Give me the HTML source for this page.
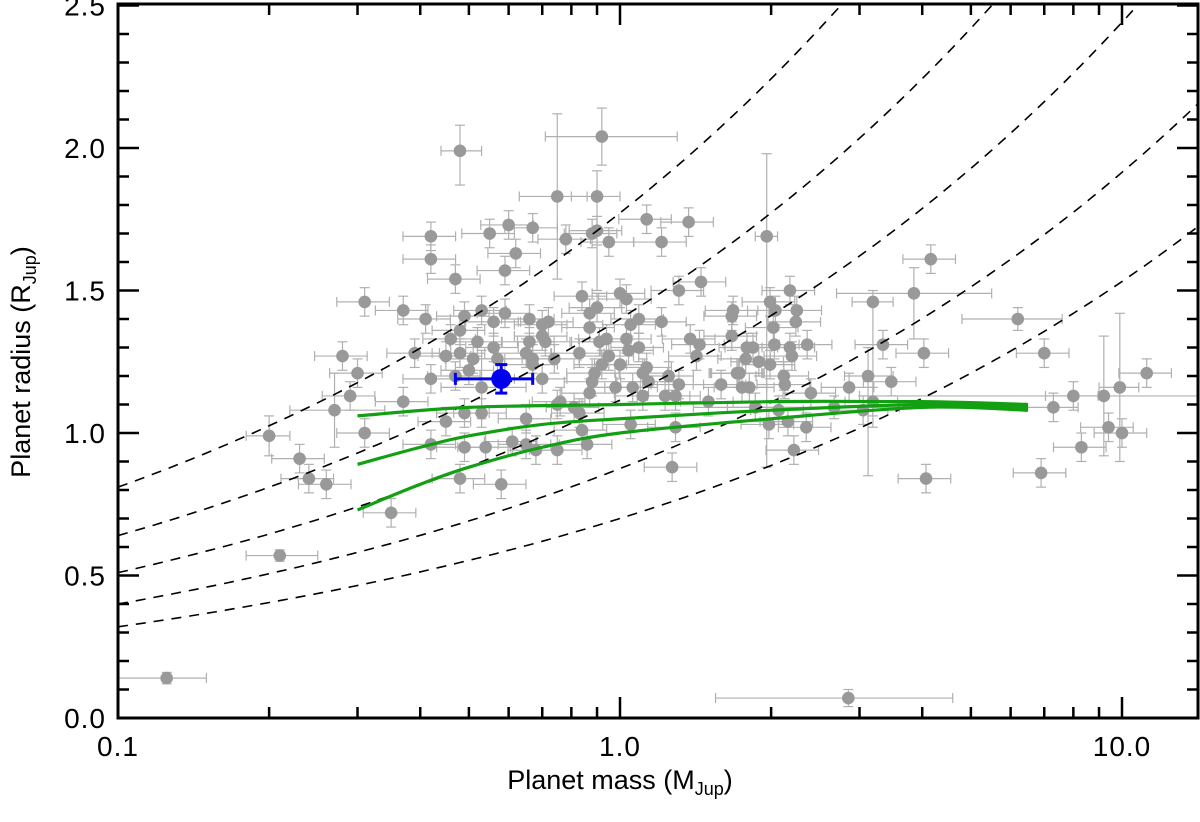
<!DOCTYPE html>
<html><head><meta charset="utf-8"><style>
html,body{margin:0;padding:0;background:#fff;}
svg{display:block;font-family:"Liberation Sans",sans-serif;}
</style></head><body>
<svg id="chart" width="1200" height="822" viewBox="0 0 1200 822">
<g id="marks"></g>
<g id="axes"></g>
<text x="620" y="789" text-anchor="middle" font-size="27">Planet mass (M<tspan font-size="18" dy="6">Jup</tspan><tspan dy="-6">)</tspan></text>
<text transform="translate(30,362) rotate(-90)" text-anchor="middle" font-size="27">Planet radius (R<tspan font-size="18" dy="6">Jup</tspan><tspan dy="-6">)</tspan></text>
</svg>
<script>
const masses=[0.48,0.92,0.75,0.90,0.42,0.55,0.60,0.67,0.78,0.88,0.90,0.95,1.13,1.37,1.21,0.42,0.62,0.59,0.47,0.84,1.00,1.03,1.31,1.45,0.31,0.37,0.41,0.49,0.53,0.56,0.59,0.66,0.70,0.72,0.87,0.90,0.87,1.05,1.09,1.21,1.68,1.67,0.48,0.46,0.52,0.66,0.70,0.71,0.91,0.94,1.03,1.38,1.67,0.39,0.45,0.48,0.51,0.56,0.57,0.65,0.67,0.74,0.83,0.95,1.04,1.09,1.44,1.42,1.79,1.78,0.28,0.30,0.42,0.47,0.50,0.67,0.70,0.92,1.00,1.13,0.89,0.88,1.11,1.72,1.25,0.29,0.37,0.53,0.87,0.98,1.06,1.14,1.31,1.59,1.75,1.23,1.29,1.11,1.50,0.27,0.49,0.53,0.75,0.76,0.81,0.83,0.45,0.65,1.05,1.29,0.20,0.31,0.84,0.42,0.49,0.54,0.61,0.65,0.68,0.75,0.86,0.23,1.27,0.24,0.26,0.48,0.58,0.35,0.21,0.125,2.85,1.96,2.18,2.25,2.24,2.36,1.99,2.04,2.02,2.03,2.18,2.20,1.99,2.12,2.13,1.84,1.89,1.71,1.73,1.81,1.86,2.07,1.98,2.16,2.35,2.22,2.40,2.86,3.12,3.47,3.34,3.19,3.85,4.16,4.03,2.67,3.05,3.19,6.2,7.0,8.0,9.2,9.9,11.2,7.3,9.4,10.0,8.3,6.9,4.07];
const radii=[1.99,2.04,1.83,1.83,1.69,1.70,1.73,1.72,1.68,1.70,1.71,1.67,1.75,1.74,1.67,1.61,1.63,1.57,1.54,1.48,1.49,1.47,1.50,1.53,1.46,1.43,1.40,1.41,1.43,1.39,1.42,1.40,1.38,1.39,1.42,1.44,1.37,1.38,1.40,1.39,1.43,1.41,1.36,1.33,1.32,1.32,1.34,1.32,1.32,1.33,1.33,1.33,1.34,1.28,1.27,1.28,1.26,1.30,1.26,1.28,1.26,1.26,1.28,1.27,1.29,1.30,1.31,1.27,1.30,1.26,1.27,1.21,1.19,1.20,1.22,1.24,1.19,1.24,1.24,1.23,1.21,1.18,1.21,1.21,1.20,1.13,1.11,1.16,1.14,1.16,1.16,1.18,1.17,1.17,1.16,1.13,1.13,1.13,1.11,1.08,1.07,1.07,1.10,1.11,1.09,1.07,1.04,1.05,1.03,1.02,0.99,1.00,1.01,0.96,0.95,0.95,0.97,0.96,0.94,0.94,0.96,0.91,0.88,0.84,0.82,0.84,0.82,0.72,0.57,0.14,0.07,1.69,1.50,1.43,1.39,1.31,1.46,1.43,1.37,1.31,1.30,1.27,1.24,1.20,1.17,1.30,1.25,1.21,1.21,1.16,1.09,1.08,1.03,1.04,1.02,0.94,1.14,1.16,1.20,1.18,1.31,1.46,1.49,1.61,1.28,1.09,1.08,1.11,1.40,1.28,1.13,1.13,1.16,1.21,1.09,1.02,1.00,0.95,0.86,0.84];
const defaultMassErr=0.12;
const defaultRadErr=0.05;
// [index, massLow, massHigh, radLow, radHigh]
const errOverrides=[[1,0.71,1.30,1.94,2.14],[2,0.63,0.86,1.54,2.12],[0,0.44,0.53,1.87,2.08],[3,0.80,1.0,1.50,1.92],[130,1.55,4.6,0.04,0.10],[129,0.10,0.15,0.12,0.16],[131,1.86,2.06,0.88,1.98],[171,3.0,15,0.92,1.34],[168,4.8,7.6,1.36,1.44],[162,2.7,5.5,1.33,1.58],[161,2.9,3.5,1.02,1.50],[172,9.0,10.8,0.90,1.42],[110,0.18,0.22,0.92,1.06],[99,0.22,0.34,0.95,1.21],[128,0.18,0.25,0.55,0.59],[165,1.4,3.6,1.05,1.13],[158,2.8,3.5,0.85,1.30],[87,0.44,0.65,1.05,1.29]];
const blueMass=0.58, blueRad=1.19, blueMassLo=0.47, blueMassHi=0.67, blueRadLo=1.14, blueRadHi=1.24;
const densityIntercepts=[0.81,0.64,0.51,0.40,0.32];
const densityExponent=0.34;
const greenTopM=[0.3,0.5,1,2,4,6.5];
const greenTopR=[1.06,1.09,1.10,1.11,1.11,1.10];
const greenMidM=[0.3,0.4,0.5,0.7,1,2,4,6.5];
const greenMidR=[0.89,0.95,0.99,1.03,1.05,1.08,1.10,1.09];
const greenBotM=[0.3,0.4,0.5,0.7,1,2,4,6.5];
const greenBotR=[0.73,0.82,0.88,0.95,1.00,1.05,1.09,1.08];
const yTicks=[0.0,0.5,1.0,1.5,2.0,2.5];
const yTickLabels=["0.0","0.5","1.0","1.5","2.0","2.5"];
const xTicks=[0.1,1,10];
const xTickLabels=["0.1","1.0","10.0"];

const L=118,R=1198,T=4,B=718;
const xMin=0.1, xMax=Math.pow(10,(R-L)/502-1), yMin=0, yMax=(B-T)/285;
function xs(m){return L+(Math.log10(m)-Math.log10(xMin))/(Math.log10(xMax)-Math.log10(xMin))*(R-L);}
function ys(r){return B-(r-yMin)/(yMax-yMin)*(B-T);}
const NS="http://www.w3.org/2000/svg";
const marks=document.getElementById('marks'), axes=document.getElementById('axes');
function mk(tag,attrs,parent){const e=document.createElementNS(NS,tag);for(const k in attrs)e.setAttribute(k,attrs[k]);parent.appendChild(e);return e;}

const clip=mk('clipPath',{id:'clipPlot'},marks);
mk('rect',{x:L,y:T,width:R-L,height:B-T},clip);
const plot=mk('g',{'clip-path':'url(#clipPlot)'},marks);

const errG=mk('g',{},plot);


const ptG=mk('g',{},plot);


for(let i=0;i<masses.length;i++){
  let mlo=masses[i]*(1-defaultMassErr), mhi=masses[i]*(1+defaultMassErr), rlo=radii[i]-defaultRadErr, rhi=radii[i]+defaultRadErr;
  for(const o of errOverrides){ if(o[0]===i){mlo=o[1];mhi=o[2];rlo=o[3];rhi=o[4];} }
  const cx=xs(masses[i]), cy=ys(radii[i]);
  const c='#b0b0b0';
  mk('line',{x1:xs(mlo),x2:xs(mhi),y1:cy,y2:cy,stroke:c,'stroke-width':1.2},errG);
  mk('line',{x1:cx,x2:cx,y1:ys(rlo),y2:ys(rhi),stroke:c,'stroke-width':1.2},errG);
  mk('line',{x1:xs(mlo),x2:xs(mlo),y1:cy-5,y2:cy+5,stroke:c,'stroke-width':1.2},errG);
  mk('line',{x1:xs(mhi),x2:xs(mhi),y1:cy-5,y2:cy+5,stroke:c,'stroke-width':1.2},errG);
  mk('line',{x1:cx-5,x2:cx+5,y1:ys(rlo),y2:ys(rlo),stroke:c,'stroke-width':1.2},errG);
  mk('line',{x1:cx-5,x2:cx+5,y1:ys(rhi),y2:ys(rhi),stroke:c,'stroke-width':1.2},errG);
  const p=mk('circle',{cx:cx,cy:cy,r:6.3,fill:'#999999'},ptG);
  
  
}

for(let k=0;k<densityIntercepts.length;k++){
  let d='';
  for(let j=0;j<=120;j++){
    const lm=Math.log10(xMin)+j/120*(Math.log10(xMax)-Math.log10(xMin));
    const m=Math.pow(10,lm);
    const r=densityIntercepts[k]*Math.pow(m/0.1,densityExponent);
    d+=(j?'L':'M')+xs(m).toFixed(1)+','+ys(r).toFixed(1);
  }
  const pl=mk('path',{d:d,fill:'none',stroke:'#000','stroke-width':1.6,'stroke-dasharray':'10,8'},plot);
  
  
}

function curve(ms,rs){
  const pts=ms.map((m,i)=>[xs(m),ys(rs[i])]);
  let d='M'+pts[0][0]+','+pts[0][1];
  for(let i=0;i<pts.length-1;i++){
    const p0=pts[i-1]||pts[i],p1=pts[i],p2=pts[i+1],p3=pts[i+2]||p2;
    const c1=[p1[0]+(p2[0]-p0[0])/6,p1[1]+(p2[1]-p0[1])/6];
    const c2=[p2[0]-(p3[0]-p1[0])/6,p2[1]-(p3[1]-p1[1])/6];
    d+='C'+c1+' '+c2+' '+p2;
  }
  return d;
}
const g1=mk('path',{d:curve(greenTopM,greenTopR),fill:'none',stroke:'#12a012','stroke-width':3.2},plot);


const g2=mk('path',{d:curve(greenMidM,greenMidR),fill:'none',stroke:'#12a012','stroke-width':3.2},plot);


const g3=mk('path',{d:curve(greenBotM,greenBotR),fill:'none',stroke:'#12a012','stroke-width':3.2},plot);



const bg=mk('g',{stroke:'#0000ee','stroke-width':3,fill:'#0000ee'},plot);


const bx=xs(blueMass),by=ys(blueRad);
mk('line',{x1:xs(blueMassLo),x2:xs(blueMassHi),y1:by,y2:by},bg);
mk('line',{x1:bx,x2:bx,y1:ys(blueRadLo),y2:ys(blueRadHi)},bg);
mk('line',{x1:xs(blueMassLo),x2:xs(blueMassLo),y1:by-6,y2:by+6},bg);
mk('line',{x1:xs(blueMassHi),x2:xs(blueMassHi),y1:by-6,y2:by+6},bg);
mk('line',{x1:bx-6,x2:bx+6,y1:ys(blueRadLo),y2:ys(blueRadLo)},bg);
mk('line',{x1:bx-6,x2:bx+6,y1:ys(blueRadHi),y2:ys(blueRadHi)},bg);
mk('circle',{cx:bx,cy:by,r:10,stroke:'none'},bg);

const fr=mk('rect',{x:L,y:T,width:R-L,height:B-T,fill:'none',stroke:'#000','stroke-width':3},axes);


for(let v=0;v<=25;v++){
  const val=v/10, y=ys(val), major=(v%5===0), len=major?21:11;
  mk('line',{x1:L,x2:L+len,y1:y,y2:y,stroke:'#000','stroke-width':2.5},axes);
  mk('line',{x1:R,x2:R-len,y1:y,y2:y,stroke:'#000','stroke-width':2.5},axes);
}
yTicks.forEach((v,i)=>{
  const t=mk('text',{x:106,y:ys(v)+10,'text-anchor':'end','font-size':28,'letter-spacing':'1'},axes);
  t.textContent=yTickLabels[i];
  
  
});
for(let dec=0.1;dec<=10;dec*=10){
  for(let k=1;k<=9;k++){
    const m=dec*k; if(m>xMax) break;
    const x=xs(m), len=(k===1)?21:11;
    mk('line',{x1:x,x2:x,y1:B,y2:B-len,stroke:'#000','stroke-width':2.5},axes);
    mk('line',{x1:x,x2:x,y1:T,y2:T+len,stroke:'#000','stroke-width':2.5},axes);
  }
}
xTicks.forEach((v,i)=>{
  const t=mk('text',{x:xs(v),y:756,'text-anchor':'middle','font-size':28,'letter-spacing':'1'},axes);
  t.textContent=xTickLabels[i];
  
  
});
</script>
</body></html>
